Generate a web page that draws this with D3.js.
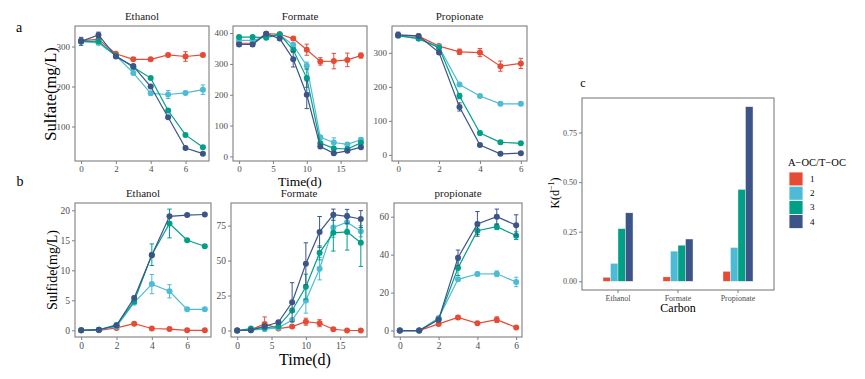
<!DOCTYPE html>
<html><head><meta charset="utf-8">
<script src="https://cdn.jsdelivr.net/npm/d3@7"></script>
<style>
html,body{margin:0;padding:0;background:#fff;}
svg{display:block;font-family:"Liberation Serif","Times New Roman",serif;}
svg text{font-family:"Liberation Serif","Times New Roman",serif !important;font-weight:normal;}
</style></head>
<body><svg id="chart" width="865" height="379"></svg>
<script>
// ---------- DATA ----------
const groups = ["1","2","3","4"];
const colors = ["#E64B35","#4DBBD5","#00A087","#3C5488"];
const legendTitle = "A\u2212OC/T\u2212OC";

// Panel a: sulfate (mg/L)
const daysEthanol = [0,1,2,3,4,5,6,7];
const daysFormate = [0,2,4,6,8,10,12,14,16,18];
const daysPropionate = [0,1,2,3,4,5,6];

const sulfateEthanol = [
  [315,318,282,268,268,279,275,279],
  [312,309,277,234,183,180,184,192],
  [313,313,277,248,221,140,79,48],
  [313,329,275,251,200,123,46,32]
];
const sulfateEthanolErr = [
  [4,4,3,3,3,3,12,4],
  [4,4,3,4,4,10,4,12],
  [4,4,3,3,3,4,3,3],
  [10,7,3,4,3,3,3,3]
];
const sulfateFormate = [
  [367,367,398,396,382,346,308,309,313,327],
  [376,376,390,394,361,294,62,45,39,54],
  [387,387,385,396,345,254,43,26,24,44],
  [363,363,398,382,315,200,32,10,18,30]
];
const sulfateFormateErr = [
  [10,10,5,5,5,18,12,25,22,8],
  [5,5,5,5,8,12,6,15,5,6],
  [5,5,5,5,8,30,6,6,5,6],
  [5,5,5,5,25,45,5,5,5,5]
];
const sulfatePropionate = [
  [351,349,320,303,301,261,269],
  [351,342,317,207,173,150,150],
  [351,342,315,173,64,37,34],
  [353,350,301,141,29,3,5]
];
const sulfatePropionateErr = [
  [5,4,4,8,12,15,15],
  [5,4,4,5,4,3,4],
  [5,4,4,8,6,4,4],
  [8,4,5,12,4,3,3]
];

// Panel b: sulfide (mg/L)
const sulfideEthanol = [
  [0,0,0.4,1.1,0.3,0.2,0,0],
  [0,0.1,0.6,4.6,7.7,6.5,3.5,3.5],
  [0,0.1,0.9,4.8,12.6,17.8,15.0,14.0],
  [0,0.1,0.8,5.4,12.5,19.0,19.2,19.3]
];
const sulfideEthanolErr = [
  [0.1,0.1,0.1,0.2,0.1,0.1,0.1,0.1],
  [0.1,0.1,0.1,0.3,1.6,1.1,0.2,0.2],
  [0.1,0.1,0.2,0.3,1.8,2.4,0.2,0.2],
  [0.1,0.1,0.1,0.3,0.3,0.2,0.2,0.2]
];
const sulfideFormate = [
  [0,0.5,4.7,1.4,2.8,6.3,5.2,0.9,0,0],
  [0,0.2,1.0,1.9,7.5,21.4,44.2,73.6,77.4,71.0],
  [0,1.4,1.9,3.0,14.3,31.3,55.5,69.8,70.5,62.8],
  [0,0.2,3.0,5.9,20.2,47.7,70.5,82.8,81.6,79.7]
];
const sulfideFormateErr = [
  [0.3,0.3,5.0,0.5,0.5,2.5,2.5,0.5,0.3,0.3],
  [0.3,0.3,0.5,0.5,1.0,9.0,8.0,7.0,5.0,4.0],
  [0.3,0.3,0.5,0.5,1.5,9.0,5.0,13.0,13.0,17.0],
  [0.3,0.3,0.5,1.0,14.0,15.0,11.0,4.0,5.0,6.0]
];
const sulfidePropionate = [
  [0,0,3.5,6.9,3.8,5.7,1.6],
  [0,0,6.6,27.0,29.8,29.9,25.6],
  [0,0,6.0,33.0,52.6,54.7,50.0],
  [0,0,5.7,38.4,56.2,60.0,55.5]
];
const sulfidePropionateErr = [
  [0.2,0.2,0.8,1.0,0.6,1.5,0.6],
  [0.2,0.2,0.8,1.0,1.0,1.5,2.5],
  [0.2,0.2,0.8,4.0,2.0,1.5,2.0],
  [0.2,0.2,1.0,4.0,6.5,4.0,5.5]
];

// Panel c: rate constants K (d^-1)
const carbons = ["Ethanol","Formate","Propionate"];
const kValues = [
  [0.020,0.022,0.050],
  [0.090,0.152,0.170],
  [0.265,0.182,0.463],
  [0.345,0.213,0.880]
];
const kTicks = [0,0.25,0.5,0.75];

// ---------- DRAW ----------
const svg = d3.select("#chart");
const FONT = '"Liberation Serif","Times New Roman",serif';
const BORDER = "#7f7f7f";
const TICKTXT = "#4d4d4d";

function styleAxis(a,size){
  a.attr("font-family",FONT);
  a.select(".domain").remove();
  a.selectAll("line").attr("stroke",BORDER);
  a.selectAll("text").attr("fill",TICKTXT).attr("font-family",FONT).style("font-size",size+"px");
}

function linePanel(cfg){
  const {left,right,top,bottom,xs,ys,errs,xTicks,yTicks,title,titleY,xExtent,tickFont} = cfg;
  const x = d3.scaleLinear()
    .domain([xExtent[0]-(xExtent[1]-xExtent[0])*0.05, xExtent[1]+(xExtent[1]-xExtent[0])*0.05])
    .range([left,right]);
  let lo = Infinity, hi = -Infinity;
  ys.forEach((s,i)=>s.forEach((v,j)=>{lo=Math.min(lo,v-errs[i][j]);hi=Math.max(hi,v+errs[i][j]);}));
  const pad = (hi-lo)*0.05;
  const y = d3.scaleLinear().domain([lo-pad,hi+pad]).range([bottom,top]);
  const g = svg.append("g");
  const ax = g.append("g").attr("transform",`translate(0,${bottom})`)
    .call(d3.axisBottom(x).tickValues(xTicks).tickFormat(d3.format("d")).tickSize(3).tickSizeOuter(0).tickPadding(2));
  const ay = g.append("g").attr("transform",`translate(${left},0)`)
    .call(d3.axisLeft(y).tickValues(yTicks).tickFormat(d3.format("d")).tickSize(3).tickSizeOuter(0).tickPadding(2));
  styleAxis(ax,tickFont); styleAxis(ay,tickFont);
  ys.forEach((s,i)=>{
    const pts = s.map((v,j)=>({x:xs[j],y:v,e:errs[i][j]}));
    const sg = g.append("g");
    sg.append("path").datum(pts)
      .attr("d",d3.line().x(d=>x(d.x)).y(d=>y(d.y)))
      .attr("fill","none").attr("stroke",colors[i]).attr("stroke-width",1.2);
    const cap = 2.2;
    sg.selectAll(".eb").data(pts).enter().append("path")
      .attr("d",d=>`M${x(d.x)},${y(d.y-d.e)}V${y(d.y+d.e)}M${x(d.x)-cap},${y(d.y-d.e)}H${x(d.x)+cap}M${x(d.x)-cap},${y(d.y+d.e)}H${x(d.x)+cap}`)
      .attr("stroke",colors[i]).attr("stroke-width",1).attr("fill","none");
    sg.selectAll("circle").data(pts).enter().append("circle")
      .attr("cx",d=>x(d.x)).attr("cy",d=>y(d.y)).attr("r",3).attr("fill",colors[i]);
  });
  g.append("rect").attr("x",left).attr("y",top).attr("width",right-left).attr("height",bottom-top)
    .attr("fill","none").attr("stroke",BORDER).attr("stroke-width",1.1);
  g.append("text").attr("x",(left+right)/2).attr("y",titleY).attr("text-anchor","middle")
    .attr("font-family",FONT).style("font-size","11px").attr("fill","#1a1a1a").text(title);
}

// Panel a
linePanel({left:75,right:209,top:26,bottom:161,xs:daysEthanol,ys:sulfateEthanol,errs:sulfateEthanolErr,
  xExtent:[0,7],xTicks:[0,2,4,6],yTicks:[100,200,300],title:"Ethanol",titleY:20,tickFont:9});
linePanel({left:233,right:367,top:26,bottom:161,xs:daysFormate,ys:sulfateFormate,errs:sulfateFormateErr,
  xExtent:[0,18],xTicks:[0,5,10,15],yTicks:[0,100,200,300,400],title:"Formate",titleY:20,tickFont:9});
linePanel({left:392,right:527,top:26,bottom:161,xs:daysPropionate,ys:sulfatePropionate,errs:sulfatePropionateErr,
  xExtent:[0,6],xTicks:[0,2,4,6],yTicks:[0,100,200,300],title:"Propionate",titleY:20,tickFont:9});

// Panel b
linePanel({left:75,right:211,top:203,bottom:337,xs:daysEthanol,ys:sulfideEthanol,errs:sulfideEthanolErr,
  xExtent:[0,7],xTicks:[0,2,4,6],yTicks:[0,5,10,15,20],title:"Ethanol",titleY:197,tickFont:9.5});
linePanel({left:231,right:367,top:203,bottom:337,xs:daysFormate,ys:sulfideFormate,errs:sulfideFormateErr,
  xExtent:[0,18],xTicks:[0,5,10,15],yTicks:[0,25,50,75],title:"Formate",titleY:197,tickFont:9.5});
linePanel({left:394,right:522,top:203,bottom:337,xs:daysPropionate,ys:sulfidePropionate,errs:sulfidePropionateErr,
  xExtent:[0,6],xTicks:[0,2,4,6],yTicks:[0,20,40,60],title:"propionate",titleY:197,tickFont:9.5});

function txt(x,y,s,size,opts={}){
  const t = svg.append("text").attr("x",x).attr("y",y).attr("text-anchor",opts.anchor||"middle")
    .attr("dominant-baseline","central")
    .attr("font-family",FONT).style("font-size",size+"px").attr("fill",opts.fill||"#000").text(s);
  if(opts.rotate) t.attr("transform",`rotate(-90,${x},${y})`);
  return t;
}
txt(19,27,"a",14);
txt(20,181,"b",14);
txt(583,83,"c",12);
txt(50,94,"Sulfate(mg/L)",16.5,{rotate:true});
txt(300,181,"Time(d)",13.5);
txt(52,270,"Sulfide(mg/L)",14,{rotate:true});
txt(305,359,"Time(d)",16);

// Panel c: grouped bars
const cL=582, cR=774, cT=98, cB=290;
const xc = d3.scaleBand().domain(carbons).range([cL,cR]).paddingOuter(0.1).paddingInner(0);
const groupW = xc.bandwidth()*0.5;
const bandInner = d3.scaleBand().domain(groups).range([0,groupW]);
const yc = d3.scaleLinear().domain([-0.88*0.05, 0.88*1.05]).range([cB,cT]);
const gc = svg.append("g");
const axc = gc.append("g").attr("transform",`translate(0,${cB})`)
  .call(d3.axisBottom(xc).tickSize(3).tickSizeOuter(0).tickPadding(2));
const ayc = gc.append("g").attr("transform",`translate(${cL},0)`)
  .call(d3.axisLeft(yc).tickValues(kTicks).tickFormat(d3.format(".2f")).tickSize(3).tickSizeOuter(0).tickPadding(2));
styleAxis(axc,8); styleAxis(ayc,8);
groups.forEach((gname,i)=>{
  gc.selectAll(".bar"+i).data(carbons).enter().append("rect")
    .attr("x",c=>xc(c)+xc.bandwidth()/2-groupW/2+bandInner(gname))
    .attr("width",bandInner.bandwidth())
    .attr("y",(c,j)=>yc(kValues[i][j]))
    .attr("height",(c,j)=>yc(0)-yc(kValues[i][j]))
    .attr("fill",colors[i]).attr("stroke","#f4f4f4").attr("stroke-width",0.4);
});
gc.append("rect").attr("x",cL).attr("y",cT).attr("width",cR-cL).attr("height",cB-cT)
  .attr("fill","none").attr("stroke",BORDER).attr("stroke-width",1.1);
txt(678,308,"Carbon",12);
const kl = svg.append("text").attr("transform","rotate(-90,555,193)").attr("x",555).attr("y",193)
  .attr("text-anchor","middle").attr("dominant-baseline","central")
  .attr("font-family",FONT).style("font-size","12px").attr("fill","#000");
kl.append("tspan").text("K(d");
kl.append("tspan").attr("dy",-4).style("font-size","8px").text("\u22121");
kl.append("tspan").attr("dy",4).text(")");

// Legend
const lg = svg.append("g");
lg.append("text").attr("x",788).attr("y",162).attr("dominant-baseline","central")
  .attr("font-family",FONT).style("font-size","10.5px").text(legendTitle);
groups.forEach((gname,i)=>{
  lg.append("rect").attr("x",789).attr("y",172+i*14.2).attr("width",14).attr("height",14)
    .attr("fill",colors[i]).attr("stroke","#fff").attr("stroke-width",0.8);
  lg.append("text").attr("x",810).attr("y",179+i*14.2).attr("dominant-baseline","central")
    .attr("font-family",FONT).style("font-size","9px").text(gname);
});
</script></body></html>
